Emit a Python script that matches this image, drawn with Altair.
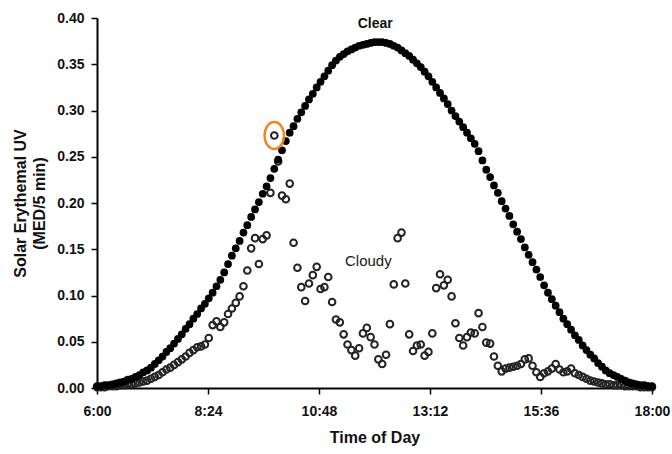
import altair as alt
import pandas as pd

# minutes after 6:00, one reading every 5 minutes
minutes = list(range(0, 721, 5))

clear_uv = [
    0.002, 0.002, 0.003, 0.003, 0.004, 0.005, 0.006, 0.007, 0.009, 0.010, 0.012, 0.014,
    0.017, 0.019, 0.022, 0.026, 0.030, 0.034, 0.039, 0.043, 0.048, 0.053, 0.058, 0.064,
    0.069, 0.075, 0.080, 0.086, 0.091, 0.097, 0.103, 0.110, 0.117, 0.125, 0.134, 0.143,
    0.151, 0.159, 0.168, 0.176, 0.185, 0.193, 0.201, 0.210, 0.218, 0.227, 0.237, 0.247,
    0.257, 0.267, 0.276, 0.283, 0.291, 0.298, 0.305, 0.312, 0.318, 0.325, 0.331, 0.337,
    0.343, 0.349, 0.354, 0.358, 0.361, 0.364, 0.366, 0.368, 0.370, 0.371, 0.372, 0.373,
    0.374, 0.374, 0.374, 0.373, 0.372, 0.370, 0.368, 0.365, 0.362, 0.359, 0.355, 0.351,
    0.347, 0.342, 0.337, 0.331, 0.325, 0.319, 0.313, 0.307, 0.300, 0.294, 0.288, 0.282,
    0.276, 0.270, 0.264, 0.256, 0.246, 0.236, 0.228, 0.219, 0.211, 0.202, 0.194, 0.186,
    0.177, 0.169, 0.161, 0.152, 0.144, 0.136, 0.128, 0.120, 0.111, 0.103, 0.096, 0.089,
    0.082, 0.075, 0.069, 0.063, 0.057, 0.052, 0.046, 0.041, 0.036, 0.032, 0.027, 0.023,
    0.019, 0.016, 0.014, 0.012, 0.010, 0.008, 0.006, 0.005, 0.004, 0.003, 0.003, 0.002,
    0.002,
]

cloudy_uv = [
    0.001, 0.001, 0.001, 0.002, 0.002, 0.002, 0.003, 0.003, 0.004, 0.004, 0.005, 0.006,
    0.007, 0.008, 0.010, 0.012, 0.014, 0.017, 0.020, 0.022, 0.025, 0.028, 0.031, 0.034,
    0.038, 0.041, 0.044, 0.045, 0.047, 0.054, 0.068, 0.072, 0.066, 0.071, 0.080, 0.086,
    0.092, 0.099, 0.110, 0.127, 0.151, 0.162, 0.134, 0.161, 0.165, 0.211, 0.273, 0.245,
    0.208, 0.204, 0.221, 0.157, 0.130, 0.109, 0.094, 0.113, 0.122, 0.131, 0.107, 0.109,
    0.120, 0.093, 0.074, 0.071, 0.058, 0.047, 0.041, 0.035, 0.043, 0.059, 0.065, 0.055,
    0.047, 0.031, 0.026, 0.036, 0.069, 0.112, 0.162, 0.168, 0.113, 0.058, 0.040, 0.046,
    0.047, 0.035, 0.039, 0.059, 0.108, 0.123, 0.111, 0.117, 0.099, 0.070, 0.054, 0.046,
    0.055, 0.060, 0.059, 0.081, 0.066, 0.049, 0.048, 0.034, 0.024, 0.018, 0.021, 0.022,
    0.023, 0.024, 0.026, 0.031, 0.032, 0.024, 0.017, 0.012, 0.016, 0.018, 0.021, 0.026,
    0.020, 0.017, 0.018, 0.021, 0.016, 0.014, 0.012, 0.010, 0.008, 0.007, 0.006, 0.005,
    0.004, 0.004, 0.003, 0.003, 0.003, 0.002, 0.002, 0.002, 0.002, 0.001, 0.001, 0.001,
    0.001,
]

x_tick_values = [0, 144, 288, 432, 576, 720]
x_tick_labels = ["6:00", "8:24", "10:48", "13:12", "15:36", "18:00"]
y_tick_values = [0.0, 0.05, 0.10, 0.15, 0.20, 0.25, 0.30, 0.35, 0.40]

clear_note = ["Clear"]
clear_note_minute = [361]
clear_note_value = [0.394]
cloudy_note = ["Cloudy"]
cloudy_note_minute = [352]
cloudy_note_value = [0.137]

highlight_minute = [230]
highlight_value = [0.273]

df = pd.DataFrame({"minute": minutes, "clear": clear_uv, "cloudy": cloudy_uv})
clear_df = pd.DataFrame({"text": clear_note, "minute": clear_note_minute, "value": clear_note_value})
cloudy_df = pd.DataFrame({"text": cloudy_note, "minute": cloudy_note_minute, "value": cloudy_note_value})
hl = pd.DataFrame({"minute": highlight_minute, "value": highlight_value})

label_expr = " : ".join(
    f"datum.value == {v} ? '{l}'" for v, l in zip(x_tick_values, x_tick_labels)
) + " : ''"

FONT = "Liberation Sans"

x_enc = alt.X(
    "minute:Q",
    scale=alt.Scale(domain=[0, 720], nice=False, zero=False),
    axis=alt.Axis(
        values=x_tick_values,
        labelExpr=label_expr,
        title="Time of Day",
        labelFlush=False,
        labelOverlap=False,
        labelPadding=10,
        titlePadding=11,
        tickSize=6,
    ),
)

y_scale = alt.Scale(domain=[0, 0.4], nice=False)
y_axis = alt.Axis(
    values=y_tick_values,
    format=".2f",
    title=["Solar Erythemal UV", "(MED/5 min)"],
    labelPadding=7,
    titlePadding=9,
    titleLineHeight=19,
    tickSize=6,
)

cloudy_layer = alt.Chart(df).mark_point(
    shape="circle", filled=False, size=44, stroke="#222222", strokeWidth=2, opacity=1
).encode(x=x_enc, y=alt.Y("cloudy:Q", scale=y_scale, axis=y_axis))

clear_layer = alt.Chart(df).mark_circle(size=60, color="black", opacity=1).encode(
    x=x_enc, y=alt.Y("clear:Q", scale=y_scale, axis=y_axis)
)

clear_text = alt.Chart(clear_df).mark_text(
    font=FONT, fontSize=14, fontWeight="bold", color="#111111"
).encode(x="minute:Q", y="value:Q", text="text:N")

cloudy_text = alt.Chart(cloudy_df).mark_text(
    font=FONT, fontSize=15, fontWeight="normal", color="#1a1a1a"
).encode(x="minute:Q", y="value:Q", text="text:N")

ellipse = "M -0.72 0 A 0.72 1 0 1 0 0.72 0 A 0.72 1 0 1 0 -0.72 0 Z"
hl_layer = alt.Chart(hl).mark_point(
    shape=ellipse, filled=False, size=729, stroke="#F58220", strokeWidth=2.4, opacity=1
).encode(x="minute:Q", y="value:Q")

chart = (
    alt.layer(cloudy_layer, clear_layer, hl_layer, clear_text, cloudy_text)
    .properties(
        width=555,
        height=370,
        autosize=alt.AutoSizeParams(type="none"),
        padding={"left": 97, "top": 18, "right": 20, "bottom": 66},
        background="white",
    )
    .configure_view(stroke=None)
    .configure_axis(
        grid=False,
        domainColor="black",
        domainWidth=2,
        tickColor="black",
        tickWidth=1.5,
        labelFont=FONT,
        labelFontWeight="bold",
        labelFontSize=14,
        labelColor="#111111",
        titleFont=FONT,
        titleFontWeight="bold",
        titleFontSize=16,
        titleColor="#111111",
    )
)

chart.save("out.html", embed_options={"renderer": "svg", "actions": False})
